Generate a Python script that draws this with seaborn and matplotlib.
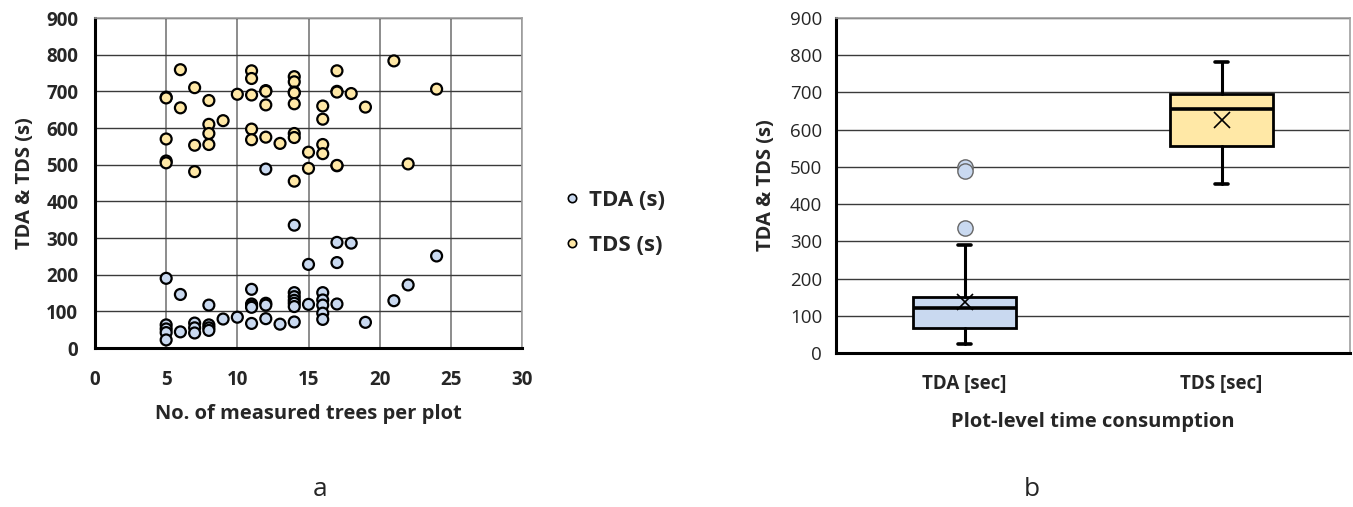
import numpy as np
import pandas as pd
import matplotlib
matplotlib.use("Agg")
import matplotlib.pyplot as plt
import seaborn as sns
from matplotlib.lines import Line2D

# panel a: time per plot against number of measured trees
tda_trees = [5, 5, 5, 5, 5, 6, 6, 7, 7, 7, 8, 8, 8, 8, 9, 10, 11, 11, 11, 11, 11,
             12, 12, 12, 12, 13, 14, 14, 14, 14, 14, 14, 14, 15, 15, 16, 16, 16, 16, 16,
             17, 17, 17, 17, 18, 19, 21, 22, 24]
tda_time = [190, 63, 52, 42, 22, 146, 44, 68, 55, 41, 117, 63, 55, 48, 79, 84, 160, 120, 115, 111, 67,
            488, 122, 117, 80, 65, 335, 151, 140, 130, 122, 113, 71, 228, 119, 151, 131, 117, 95, 78,
            497, 288, 233, 120, 286, 70, 129, 172, 251]
tds_trees = [5, 5, 5, 5, 5, 6, 6, 7, 7, 7, 8, 8, 8, 8, 9, 10, 11, 11, 11, 11, 11,
             12, 12, 12, 12, 13, 14, 14, 14, 14, 14, 14, 14, 14, 15, 15, 16, 16, 16, 16,
             17, 17, 17, 17, 18, 19, 21, 22, 24]
tds_time = [684, 682, 570, 510, 505, 759, 655, 710, 553, 481, 675, 610, 585, 555, 620, 692, 756, 735, 690, 597, 568,
            702, 700, 663, 575, 558, 740, 726, 698, 696, 666, 585, 574, 455, 534, 490, 660, 624, 555, 530,
            756, 700, 698, 498, 694, 657, 783, 502, 706]

# panel b: box plot statistics
categories = ['TDA [sec]', 'TDS [sec]']
box_low = [25, 455]
box_q1 = [68, 555]
box_med = [120, 655]
box_q3 = [150, 696]
box_high = [289, 781]
box_mean = [136, 627]
box_fliers = [[499, 489, 335], []]

df = pd.DataFrame({
    'trees': tda_trees + tds_trees,
    'time': tda_time + tds_time,
    'series': ['TDA (s)'] * len(tda_trees) + ['TDS (s)'] * len(tds_trees),
})

sns.set_theme(style="white")
plt.rcParams['font.family'] = ['Open Sans', 'DejaVu Sans']

blue, yellow = '#c9d9f0', '#ffe8a6'
W, H = 1353, 507
fig = plt.figure(figsize=(W / 100, H / 100), dpi=100)
ax1 = fig.add_axes([95 / W, (H - 348) / H, (522 - 95) / W, 330 / H])
ax2 = fig.add_axes([836 / W, (H - 353) / H, (1350 - 836) / W, 335 / H])

# ---- scatter ----
sns.scatterplot(data=df, x='trees', y='time', hue='series', ax=ax1,
                palette={'TDA (s)': blue, 'TDS (s)': yellow}, s=62,
                edgecolor='black', linewidth=1.6, legend=False, zorder=3)
ax1.set_xlim(0, 30); ax1.set_ylim(0, 900)
ax1.set_xticks(range(0, 31, 5)); ax1.set_yticks(range(0, 901, 100))
ax1.xaxis.grid(True, color='#8c8c8c', lw=1.4)
ax1.yaxis.grid(True, color='#3a3a3a', lw=1.0)
ax1.set_axisbelow(True)
for s in ['top', 'right']:
    ax1.spines[s].set_color('#a0a0a0'); ax1.spines[s].set_linewidth(1.2)
for s in ['left', 'bottom']:
    ax1.spines[s].set_color('black'); ax1.spines[s].set_linewidth(2.2)
ax1.tick_params(axis='both', direction='out', length=6, width=1.8, color='black', labelsize=13.5)
ax1.tick_params(axis='x', pad=10)
ax1.tick_params(axis='y', pad=6)
for lab in ax1.get_xticklabels() + ax1.get_yticklabels():
    lab.set_fontweight('bold')
ax1.set_xlabel('No. of measured trees per plot', fontsize=14.5, fontweight='bold', labelpad=10)
ax1.set_ylabel('TDA & TDS (s)', fontsize=14.5, fontweight='bold', labelpad=8)

handles = [Line2D([], [], ls='', marker='o', markersize=6, markerfacecolor=c,
                  markeredgecolor='black', markeredgewidth=1.2) for c in [blue, yellow]]
fig.legend(handles, ['TDA (s)', 'TDS (s)'], loc='center left', bbox_to_anchor=(540 / W, 1 - 223 / H),
           frameon=False, prop={'weight': 'bold', 'size': 16}, labelspacing=1.1,
           handletextpad=0.2, handlelength=1.1)

# ---- box plot ----
stats = []
for i in range(len(categories)):
    stats.append({'label': categories[i], 'whislo': box_low[i], 'q1': box_q1[i], 'med': box_med[i],
                  'q3': box_q3[i], 'whishi': box_high[i], 'mean': box_mean[i], 'fliers': box_fliers[i]})
bp = ax2.bxp(stats, positions=[0.5, 1.5], widths=0.4, showmeans=True, patch_artist=True,
             capwidths=0.05,
             boxprops={'linewidth': 2.0, 'edgecolor': 'black'},
             medianprops={'color': 'black', 'linewidth': 2.6},
             whiskerprops={'color': 'black', 'linewidth': 2.2},
             capprops={'color': 'black', 'linewidth': 2.6},
             meanprops={'marker': 'x', 'markeredgecolor': 'black', 'markersize': 12, 'markeredgewidth': 1.2},
             flierprops={'marker': 'o', 'markerfacecolor': blue, 'markeredgecolor': '#666666',
                         'markersize': 11, 'markeredgewidth': 1.0},
             zorder=3)
for patch, c in zip(bp['boxes'], [blue, yellow]):
    patch.set_facecolor(c)
ax2.set_xlim(0, 2); ax2.set_ylim(0, 900)
ax2.set_yticks(range(0, 901, 100))
ax2.set_xticks([0, 1, 2]); ax2.set_xticklabels([])
ax2.set_xticks([0.5, 1.5], minor=True)
ax2.set_xticklabels(categories, minor=True)
ax2.tick_params(axis='x', which='major', direction='out', length=7, width=1.8, color='black')
ax2.tick_params(axis='x', which='minor', length=0, labelsize=13.5, pad=15)
for lab in ax2.get_xticklabels(minor=True):
    lab.set_fontweight('bold')
ax2.tick_params(axis='y', direction='out', length=6, width=1.8, color='black', labelsize=13.5, pad=4)
ax2.yaxis.grid(True, color='#3a3a3a', lw=1.0)
ax2.set_axisbelow(True)
for s in ['top', 'right']:
    ax2.spines[s].set_color('#a0a0a0'); ax2.spines[s].set_linewidth(1.2)
for s in ['left', 'bottom']:
    ax2.spines[s].set_color('black'); ax2.spines[s].set_linewidth(2.2)
ax2.set_xlabel('Plot-level time consumption', fontsize=14.5, fontweight='bold', labelpad=13)
ax2.set_ylabel('TDA & TDS (s)', fontsize=14.5, fontweight='bold', labelpad=10)

fig.text(320 / W, 1 - 490 / H, 'a', fontsize=19, ha='center', va='center')
fig.text(1032 / W, 1 - 490 / H, 'b', fontsize=19, ha='center', va='center')

fig.savefig('out.png', dpi=100, facecolor='white')
